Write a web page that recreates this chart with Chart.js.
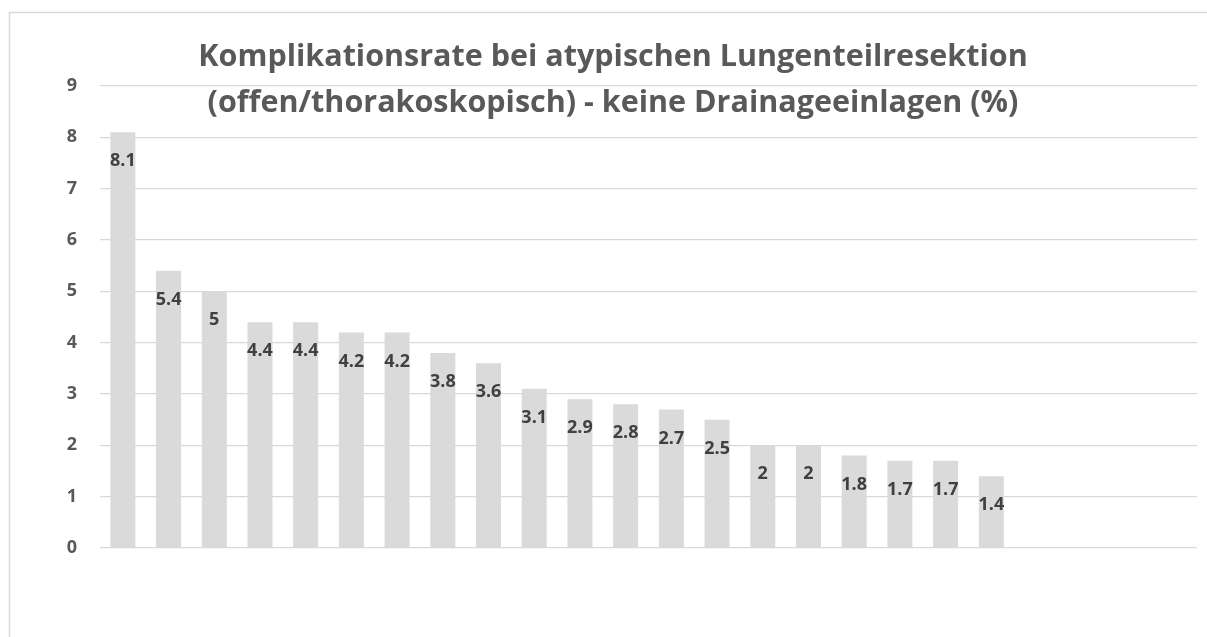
<!DOCTYPE html>
<html>
<head>
<meta charset="utf-8">
<script src="https://cdn.jsdelivr.net/npm/chart.js@4/dist/chart.umd.min.js"></script>
<style>
  html, body { margin: 0; padding: 0; background: #fff; }
  #wrap { width: 1207px; height: 637px; }
</style>
</head>
<body>
<div id="wrap"><canvas id="chart" width="1207" height="637"></canvas></div>
<script>
// complication rates (%), sorted descending; last four slots stay empty
const categories = ['1', '2', '3', '4', '5', '6', '7', '8', '9', '10', '11', '12',
  '13', '14', '15', '16', '17', '18', '19', '20', '', '', '', ''];
const rates = [8.1, 5.4, 5, 4.4, 4.4, 4.2, 4.2, 3.8, 3.6, 3.1, 2.9, 2.8,
  2.7, 2.5, 2, 2, 1.8, 1.7, 1.7, 1.4];
const yTicks = [0, 1, 2, 3, 4, 5, 6, 7, 8, 9];
const titleLines = [
  'Komplikationsrate bei atypischen Lungenteilresektion',
  '(offen/thorakoskopisch) - keine Drainageeinlagen (%)'
];

const FONT = '"Open Sans", sans-serif';

// light frame around the whole chart
const framePlugin = {
  id: 'frame',
  beforeDraw(chart) {
    const ctx = chart.ctx;
    ctx.save();
    ctx.fillStyle = '#fff';
    ctx.fillRect(0, 0, chart.width, chart.height);
    ctx.strokeStyle = '#d9d9d9';
    ctx.lineWidth = 1.5;
    ctx.strokeRect(9.5, 12.5, chart.width + 20, chart.height + 20);
    ctx.restore();
  }
};

// two-line title drawn above the plot
const titlePlugin = {
  id: 'twoLineTitle',
  afterDraw(chart) {
    const ctx = chart.ctx;
    ctx.save();
    ctx.font = 'bold 30.5px ' + FONT;
    ctx.fillStyle = '#595959';
    ctx.textAlign = 'center';
    ctx.textBaseline = 'alphabetic';
    titleLines.forEach((line, i) => {
      ctx.fillText(line, 613, 66 + i * 46);
    });
    ctx.restore();
  }
};

// value labels just inside the top of each bar
const valueLabels = {
  id: 'valueLabels',
  afterDatasetsDraw(chart) {
    const ctx = chart.ctx;
    const meta = chart.getDatasetMeta(0);
    ctx.save();
    ctx.font = 'bold 18px ' + FONT;
    ctx.fillStyle = '#404040';
    ctx.textAlign = 'center';
    ctx.textBaseline = 'middle';
    meta.data.forEach((bar, i) => {
      const v = chart.data.datasets[0].data[i];
      if (v == null) return;
      ctx.fillText(String(v), bar.x, bar.y + 29);
    });
    ctx.restore();
  }
};

new Chart(document.getElementById('chart'), {
  type: 'bar',
  data: {
    labels: categories,
    datasets: [{
      data: rates,
      backgroundColor: '#dadada',
      borderWidth: 0,
      categoryPercentage: 1,
      barPercentage: 0.547
    }]
  },
  options: {
    responsive: false,
    animation: false,
    layout: { padding: { top: 86, bottom: 89, left: 0, right: 10 } },
    plugins: {
      legend: { display: false },
      title: { display: false },
      tooltip: { enabled: false }
    },
    scales: {
      x: { display: false },
      y: {
        min: 0,
        max: 9,
        afterFit(scale) { scale.width = 100; },
        afterBuildTicks(scale) { scale.ticks = yTicks.map(v => ({ value: v })); },
        border: { display: false },
        grid: { color: '#d9d9d9', lineWidth: 1.3, drawTicks: false },
        ticks: {
          color: '#595959',
          padding: 23,
          font: { family: FONT, size: 18, weight: 'bold' }
        }
      }
    }
  },
  plugins: [framePlugin, titlePlugin, valueLabels]
});
</script>
</body>
</html>
